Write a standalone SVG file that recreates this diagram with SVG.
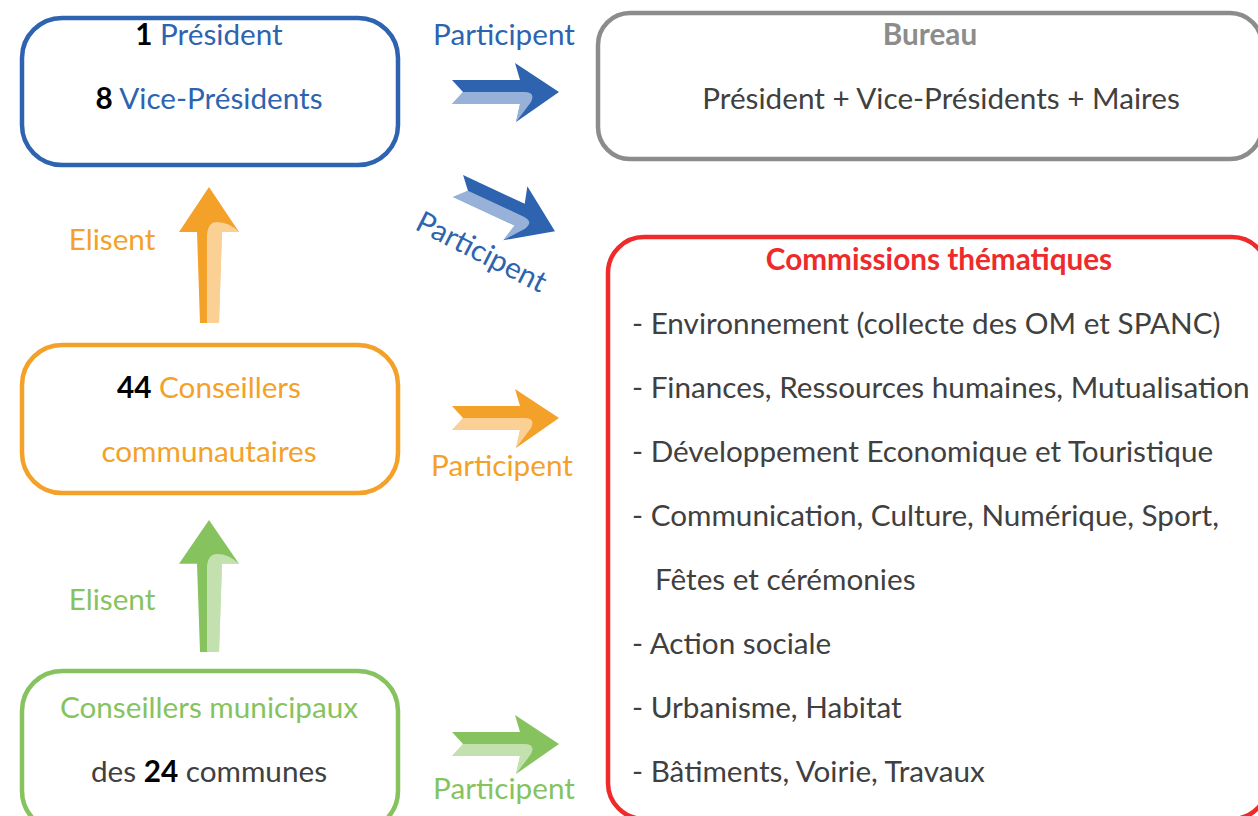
<svg xmlns="http://www.w3.org/2000/svg" xmlns:xlink="http://www.w3.org/1999/xlink" width="1258" height="816" viewBox="0 0 1258 816">
<style>
text{font-family:Lato,"Open Sans","Liberation Sans",sans-serif;font-size:29.7px}
.box{fill:#fff;stroke-width:4.5}
.c{text-anchor:middle}
.b{font-weight:bold;fill:#000}
.blue{fill:#2e63b0}.orange{fill:#f4a12a}.green{fill:#86c35f}.dark{fill:#404040}.gray{fill:#8c8c8c}.red{fill:#ee2a2a}
</style>
<defs>
<g id="harrow">
<path d="M0,-12 L68,-12 L63,-29 L107,0 L64,30 L68,12 L0,12 L11,0 Z" fill="currentColor"/>
<path d="M0,12 L11,0 L72,0 Q84,0 79,10 L64,30 L68,12 Z" fill="#fff" fill-opacity="0.5"/>
</g>
<g id="varrow">
<path d="M-9,136 L-12,45 L-30,45 L0,0 L30,45 L13,45 L10,136 Z" fill="currentColor"/>
<path d="M-2,136 L-2,48 Q-1,35 8,35 Q20,35 30,45 L13,45 L10,136 Z" fill="#fff" fill-opacity="0.5"/>
</g>
</defs>
<rect width="1258" height="816" fill="#fff"/>
<g id="connectors">
<use xlink:href="#harrow" href="#harrow" color="#2e63b0" transform="translate(452,92)"/>
<use xlink:href="#harrow" href="#harrow" color="#2e63b0" transform="translate(458,186) rotate(25)"/>
<use xlink:href="#harrow" href="#harrow" color="#f4a12a" transform="translate(452,418)"/>
<use xlink:href="#harrow" href="#harrow" color="#86c35f" transform="translate(452,744)"/>
<use xlink:href="#varrow" href="#varrow" color="#f4a12a" transform="translate(209,187)"/>
<use xlink:href="#varrow" href="#varrow" color="#86c35f" transform="translate(209,520) scale(1,0.97)"/>
<text class="c blue" x="504" y="45">Participent</text>
<text class="c blue" transform="translate(477,261) rotate(27)">Participent</text>
<text class="c orange" x="502" y="476">Participent</text>
<text class="c green" x="504" y="799">Participent</text>
<text class="c orange" x="112" y="250">Elisent</text>
<text class="c green" x="112" y="610">Elisent</text>
</g>
<g id="president">
<rect class="box" x="22" y="18" width="376" height="147" rx="40" stroke="#2e63b0"/>
<text class="c blue" x="209" y="45"><tspan class="b">1</tspan> Président</text>
<text class="c blue" x="209" y="109"><tspan class="b">8</tspan> Vice-Présidents</text>
</g>
<g id="bureau">
<rect class="box" x="598" y="13" width="664" height="146" rx="32" stroke="#8c8c8c"/>
<text class="c gray" x="930" y="45" font-weight="bold">Bureau</text>
<text class="c dark" x="941" y="109">Président + Vice-Présidents + Maires</text>
</g>
<g id="conseillers-communautaires">
<rect class="box" x="22" y="345" width="376" height="148" rx="40" stroke="#f4a12a"/>
<text class="c orange" x="209" y="398"><tspan class="b">44</tspan> Conseillers</text>
<text class="c orange" x="209" y="462">communautaires</text>
</g>
<g id="conseillers-municipaux">
<rect class="box" x="22" y="671" width="376" height="160" rx="40" stroke="#86c35f"/>
<text class="c green" x="209" y="718">Conseillers municipaux</text>
<text class="c dark" x="209" y="782">des <tspan class="b">24</tspan> communes</text>
</g>
<g id="commissions">
<rect class="box" x="608" y="237" width="660" height="582" rx="36" stroke="#ee2a2a"/>
<text class="c red" x="939" y="270" font-weight="bold">Commissions thématiques</text>
<text class="dark" x="632" y="334">- Environnement (collecte des OM et SPANC)</text>
<text class="dark" x="632" y="398">- Finances, Ressources humaines, Mutualisation</text>
<text class="dark" x="632" y="462">- Développement Economique et Touristique</text>
<text class="dark" x="632" y="526">- Communication, Culture, Numérique, Sport,</text>
<text class="dark" x="655" y="590">Fêtes et cérémonies</text>
<text class="dark" x="632" y="654">- Action sociale</text>
<text class="dark" x="632" y="718">- Urbanisme, Habitat</text>
<text class="dark" x="632" y="782">- Bâtiments, Voirie, Travaux</text>
</g>
</svg>
